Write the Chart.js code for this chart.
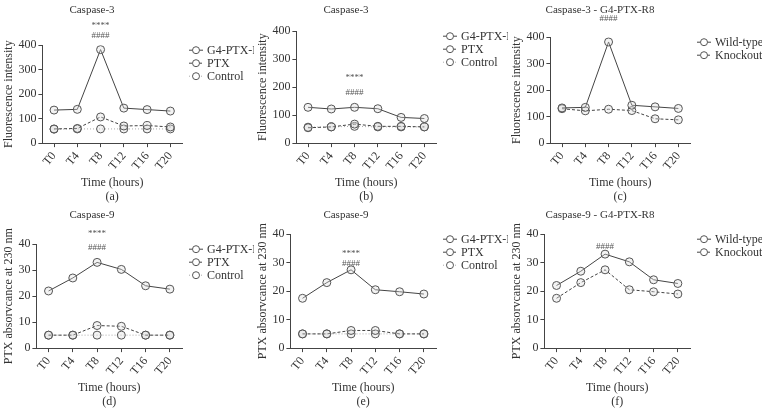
<!DOCTYPE html>
<html><head><meta charset="utf-8">
<script src="https://cdn.jsdelivr.net/npm/chart.js@4"></script>
<style>
body{margin:0;background:#fff;width:763px;height:409px;position:relative;overflow:hidden}
.p{position:absolute;width:254px;height:204px}
</style></head><body>
<div class="p" style="left:0;top:0"><canvas id="a"></canvas></div>
<div class="p" style="left:254px;top:0"><canvas id="b"></canvas></div>
<div class="p" style="left:508px;top:0"><canvas id="c"></canvas></div>
<div class="p" style="left:0;top:205px"><canvas id="d"></canvas></div>
<div class="p" style="left:254px;top:205px"><canvas id="e"></canvas></div>
<div class="p" style="left:508px;top:205px"><canvas id="f"></canvas></div>
<script>
const times = ['T0', 'T4', 'T8', 'T12', 'T16', 'T20'];

const a_g4 = [135, 138, 382, 143, 137, 131];
const a_ptx = [58, 60, 107, 70, 72, 66];
const a_ctrl = [57, 58, 58, 58, 58, 58];

const b_g4 = [128, 122, 128, 123, 92, 88];
const b_ptx = [55, 58, 68, 60, 60, 58];
const b_ctrl = [57, 58, 60, 58, 58, 58];

const c_wt = [133, 135, 382, 143, 137, 131];
const c_ko = [130, 122, 128, 123, 92, 88];

const d_g4 = [22, 27, 33, 30.3, 24, 22.7];
const d_ptx = [5, 5, 8.7, 8.4, 5, 5];
const d_ctrl = [5, 5, 5, 5, 5, 5];

const e_g4 = [17.5, 23, 27.5, 20.5, 19.8, 19];
const e_ptx = [5, 5, 6.2, 6.2, 5, 5];
const e_ctrl = [5, 5, 5, 5, 5, 5];

const f_wt = [22, 27, 33, 30.3, 24, 22.7];
const f_ko = [17.5, 23, 27.5, 20.5, 19.8, 19];

const FONT = 'Liberation Serif';
Chart.defaults.font.family = FONT;
Chart.defaults.color = '#333';

function ds(label, data, kind) {
    let dash = kind == 0 ? [] : (kind == 1 ? [3, 2] : [1, 2]);
    let col = kind == 2 ? '#aaa' : '#444';
    return {
        label: label, data: data, borderColor: col, borderWidth: 1, borderDash: dash,
        pointRadius: 4, pointBorderColor: '#555', pointBackgroundColor: 'rgba(220,220,220,0.35)',
        pointBorderWidth: 1
    };
}

// stars/hash marks above T8, plus a hand drawn legend to the right
const marks = {
    id: 'marks',
    afterDatasetsDraw(chart, args, opts) {
        let ctx = chart.ctx, x = chart.scales.x.getPixelForValue(2);
        ctx.save();
        ctx.font = '9px ' + FONT;
        ctx.fillStyle = '#555';
        ctx.textAlign = 'center';
        ctx.textBaseline = 'middle';
        (opts.items || []).forEach(function (m) {
            ctx.fillText(m[0], x, chart.scales.y.getPixelForValue(m[1]));
        });
        let lx = chart.chartArea.right + 14, ly = chart.chartArea.top + 5;
        ctx.font = '12px ' + FONT;
        ctx.textAlign = 'left';
        chart.data.datasets.forEach(function (d, i) {
            let y = ly + i * 13;
            ctx.strokeStyle = d.borderColor;
            ctx.setLineDash(d.borderDash);
            ctx.beginPath(); ctx.moveTo(lx - 7, y); ctx.lineTo(lx + 7, y); ctx.stroke();
            ctx.setLineDash([]);
            ctx.strokeStyle = '#555';
            ctx.fillStyle = '#fff';
            ctx.beginPath(); ctx.arc(lx, y, 3.5, 0, Math.PI * 2); ctx.fill(); ctx.stroke();
            ctx.fillStyle = '#333';
            ctx.fillText(d.label, lx + 11, y + 1);
        });
        ctx.restore();
    }
};

function make(id, title, ylab, sets, ymax, step, letter, items, titlePad) {
    new Chart(document.getElementById(id), {
        type: 'line',
        data: { labels: times, datasets: sets },
        plugins: [marks],
        options: {
            responsive: true, maintainAspectRatio: false, animation: false,
            layout: { padding: { left: 2, right: 72, top: 2, bottom: 0 } },
            plugins: {
                title: { display: true, text: title, font: { size: 11, weight: 'normal' }, color: '#333', padding: { top: 2, bottom: titlePad } },
                legend: { display: false },
                marks: { items: items },
                tooltip: { enabled: false }
            },
            scales: {
                x: {
                    offset: true,
                    grid: { drawOnChartArea: false, color: '#444', tickLength: 4 },
                    border: { color: '#444' },
                    ticks: { font: { size: 12 }, color: '#333', padding: 2 },
                    title: { display: true, text: ['Time (hours)', '(' + letter + ')'], font: { size: 12 }, color: '#333', padding: 0 }
                },
                y: {
                    min: 0, max: ymax,
                    grid: { drawOnChartArea: false, color: '#444', tickLength: 4 },
                    border: { color: '#444' },
                    ticks: { stepSize: step, font: { size: 12 }, color: '#333', padding: 2 },
                    title: { display: true, text: ylab, font: { size: 12 }, color: '#333', padding: 0 }
                }
            }
        }
    });
}

const FI = 'Fluorescence intensity';
const PA = 'PTX absorvcance at 230 nm';

make('a', 'Caspase-3', FI, [ds('G4-PTX-R8', a_g4, 0), ds('PTX', a_ptx, 1), ds('Control', a_ctrl, 2)], 400, 100, 'a', [['****', 480], ['####', 440]], 28);
make('b', 'Caspase-3', FI, [ds('G4-PTX-R8', b_g4, 0), ds('PTX', b_ptx, 1), ds('Control', b_ctrl, 2)], 400, 100, 'b', [['****', 235], ['####', 180]], 14);
make('c', 'Caspase-3 - G4-PTX-R8', FI, [ds('Wild-type', c_wt, 0), ds('Knockout', c_ko, 1)], 400, 100, 'c', [['####', 470]], 20);
make('d', 'Caspase-9', PA, [ds('G4-PTX-R8', d_g4, 0), ds('PTX', d_ptx, 1), ds('Control', d_ctrl, 2)], 40, 10, 'd', [['****', 44], ['####', 38.5]], 22);
make('e', 'Caspase-9', PA, [ds('G4-PTX-R8', e_g4, 0), ds('PTX', e_ptx, 1), ds('Control', e_ctrl, 2)], 40, 10, 'e', [['****', 33], ['####', 29.5]], 12);
make('f', 'Caspase-9 - G4-PTX-R8', PA, [ds('Wild-type', f_wt, 0), ds('Knockout', f_ko, 1)], 40, 10, 'f', [['####', 35.5]], 12);
</script>
</body></html>
